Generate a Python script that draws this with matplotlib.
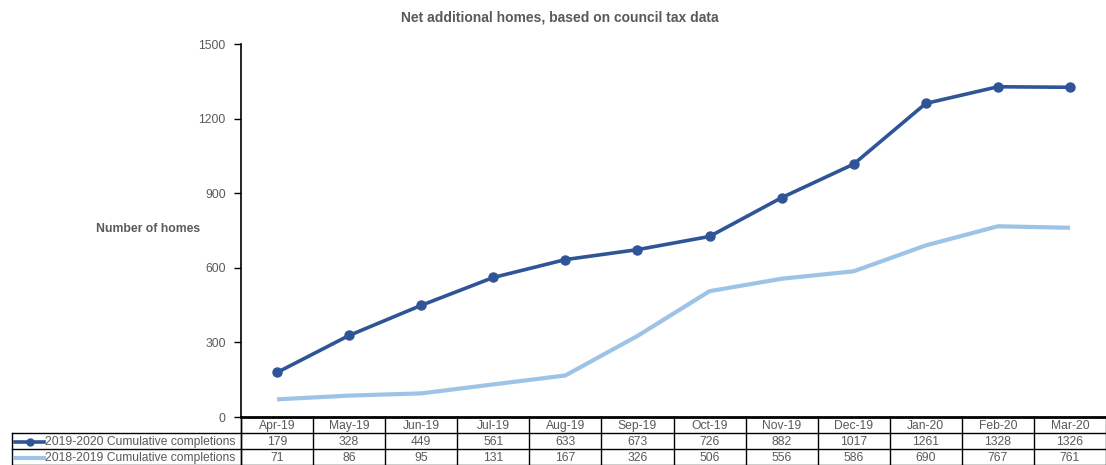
import matplotlib
matplotlib.use("Agg")
import matplotlib.pyplot as plt
from matplotlib.transforms import blended_transform_factory
from matplotlib.lines import Line2D

plt.rcParams['font.family'] = ['Liberation Sans', 'DejaVu Sans']

months = ["Apr-19", "May-19", "Jun-19", "Jul-19", "Aug-19", "Sep-19",
          "Oct-19", "Nov-19", "Dec-19", "Jan-20", "Feb-20", "Mar-20"]
series_2019_2020 = [179, 328, 449, 561, 633, 673, 726, 882, 1017, 1261, 1328, 1326]
series_2018_2019 = [71, 86, 95, 131, 167, 326, 506, 556, 586, 690, 767, 761]
label_a = "2019-2020 Cumulative completions"
label_b = "2018-2019 Cumulative completions"
yticks = [0, 300, 600, 900, 1200, 1500]

dark = "#2F5597"
light = "#9DC3E6"
gray = "#595959"
tfs = 8.75

W, H = 1106, 465
fig = plt.figure(figsize=(W / 100, H / 100), dpi=100)
left, right, top, bottom = 241, 1106, 44, 417
ax = fig.add_axes([left / W, 1 - bottom / H, (right - left) / W, (bottom - top) / H])

x = list(range(len(months)))
ax.plot(x, series_2018_2019, color=light, lw=3, solid_capstyle='butt', zorder=2)
ax.plot(x, series_2019_2020, color=dark, lw=2.6, marker='o', ms=6.5, zorder=3)

ax.set_xlim(-0.5, len(months) - 0.5)
ax.set_ylim(0, 1500)
ax.set_yticks(yticks)
ax.set_yticklabels([str(v) for v in yticks], color=gray, fontsize=8.7)
ax.tick_params(axis='y', direction='out', length=5, width=1, color='black', pad=6)
ax.set_xticks([])
for s in ['top', 'right']:
    ax.spines[s].set_visible(False)
ax.spines['left'].set_linewidth(1.2)
ax.spines['bottom'].set_linewidth(2)

fig.text(560 / W, 1 - 18 / H, "Net additional homes, based on council tax data",
         ha='center', va='center', fontsize=10, fontweight='bold', color=gray)
fig.text(148 / W, 1 - 229 / H, "Number of homes", ha='center', va='center',
         fontsize=8.8, fontweight='bold', color=gray)

# data table
rows_y = [417, 433, 449, 465]  # pixel boundaries
def fy(py):
    return 1 - py / H
tr = blended_transform_factory(ax.transData, fig.transFigure)
ftr = fig.transFigure
for py in rows_y[1:]:
    fig.add_artist(Line2D([12 / W, 1], [fy(py), fy(py)], color='black', lw=1, transform=ftr))
for k in range(len(months) + 1):
    xb = k - 0.5
    fig.add_artist(Line2D([xb, xb], [fy(417), fy(465)], color='black', lw=1, transform=tr))
fig.add_artist(Line2D([12 / W, 12 / W], [fy(433), fy(465)], color='black', lw=1, transform=ftr))
fig.add_artist(Line2D([left / W, left / W], [fy(417), fy(465)], color='black', lw=1, transform=ftr))

for i, m in enumerate(months):
    fig.text(i, fy(425.5), m, transform=tr, ha='center', va='center', fontsize=tfs, color=gray)
    fig.text(i, fy(441.5), str(series_2019_2020[i]), transform=tr, ha='center', va='center', fontsize=tfs, color=gray)
    fig.text(i, fy(457.5), str(series_2018_2019[i]), transform=tr, ha='center', va='center', fontsize=tfs, color=gray)

# legend keys
fig.add_artist(Line2D([15 / W, 44 / W], [fy(441.5), fy(441.5)], color=dark, lw=2.6, transform=ftr))
fig.add_artist(Line2D([29.5 / W], [fy(441.5)], color=dark, marker='o', ms=5, transform=ftr))
fig.add_artist(Line2D([15 / W, 44 / W], [fy(457.5), fy(457.5)], color=light, lw=3, transform=ftr))
fig.text(45 / W, fy(441.5), label_a, ha='left', va='center', fontsize=tfs, color=gray)
fig.text(45 / W, fy(457.5), label_b, ha='left', va='center', fontsize=tfs, color=gray)

fig.savefig("out.png", dpi=100)
